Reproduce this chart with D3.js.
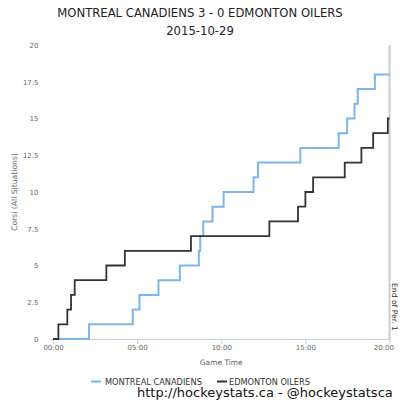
<!DOCTYPE html>
<html><head><meta charset="utf-8">
<script src="https://cdn.jsdelivr.net/npm/d3@7/dist/d3.min.js"></script>
<style>body{margin:0;background:#fff}svg{display:block}text{font-family:"DejaVu Sans",Verdana,sans-serif}</style>
</head><body><svg id="c" width="400" height="400"></svg>
<script>
const titleLine1 = "MONTREAL CANADIENS 3 - 0 EDMONTON OILERS";
const titleLine2 = "2015-10-29";
const seriesNames = ["MONTREAL CANADIENS", "EDMONTON OILERS"];
const seriesColors = ["#7cb5ec", "#333333"];
// event times in minutes, cumulative corsi values
const mtlTimes  = [0, 2.14, 4.74, 5.14, 6.27, 7.54, 8.67, 8.75, 8.93, 9.48, 10.14, 11.92, 12.18, 14.70, 16.98, 17.48, 17.92, 18.11, 19.13, 20];
const mtlValues = [0, 1, 2, 3, 4, 5, 6, 7, 8, 9, 10, 11, 12, 13, 14, 15, 16, 17, 18, 18];
const edmTimes  = [0, 0.32, 0.85, 1.07, 1.29, 3.17, 4.27, 8.20, 12.86, 14.56, 15.00, 15.46, 17.34, 18.33, 19.03, 19.90, 20];
const edmValues = [0, 1, 2, 3, 4, 5, 6, 7, 8, 9, 10, 11, 12, 13, 14, 15, 15];
const xTicks = [0, 5, 10, 15, 20];
const yTicks = [0, 2.5, 5, 7.5, 10, 12.5, 15, 17.5, 20];
const yTitle = "Corsi (All Situations)";
const xTitle = "Game Time";
const plotLineLabel = "End of Per. 1";
const plotLineAt = 20;
const credit = "http://hockeystats.ca - @hockeystatsca";

const svg = d3.select("#c");
const x = d3.scaleLinear().domain([0, 20]).range([53, 389.5]);
const y = d3.scaleLinear().domain([0, 20]).range([339, 45]);

function fit(sel, w) {
  const n = sel.node(); const cur = n.getComputedTextLength();
  const fs = parseFloat(sel.attr("font-size"));
  sel.attr("font-size", fs * w / cur);
  return fs * w / cur;
}

// title
const t1 = svg.append("text").attr("x", 200).attr("y", 17).attr("text-anchor", "middle")
  .attr("font-size", 14).attr("fill", "#222").text(titleLine1);
const tfs = fit(t1, 286);
svg.append("text").attr("x", 200).attr("y", 35).attr("text-anchor", "middle")
  .attr("font-size", tfs).attr("fill", "#222").text(titleLine2);

// plot line
svg.append("line").attr("x1", x(plotLineAt)).attr("x2", x(plotLineAt))
  .attr("y1", y(20)).attr("y2", y(0)).attr("stroke", "#cccccc").attr("stroke-width", 2);
const pl = svg.append("text").attr("transform", `translate(${x(plotLineAt) + 2.5},283) rotate(90)`)
  .attr("font-size", 9).attr("fill", "#333").text(plotLineLabel);
fit(pl, 48);

// x axis
const xAxis = d3.axisBottom(x).tickValues(xTicks).tickSize(5).tickPadding(1.5)
  .tickFormat(d => d3.format("02d")(d) + ":00");
const gx = svg.append("g").attr("transform", `translate(0,${y(0)})`).call(xAxis);
gx.select(".domain").attr("stroke", "#C0D0E0").attr("d", `M${x(0)-2},0.5H${x(20)+1}`);
gx.selectAll(".tick line").attr("stroke", "#C0D0E0");
gx.selectAll(".tick text").attr("fill", "#666").attr("font-size", 7).attr("font-family", "DejaVu Sans")
  .attr("text-anchor", d => d === 20 ? "end" : "middle")
  .attr("dx", d => d === 20 ? 4 : 0);

// y axis
const yAxis = d3.axisLeft(y).tickValues(yTicks).tickSize(0).tickPadding(14.5)
  .tickFormat(d => d3.format("")(d));
const gy = svg.append("g").attr("transform", `translate(${x(0)},0)`).call(yAxis);
gy.select(".domain").remove();
gy.selectAll(".tick text").attr("fill", "#666").attr("font-size", 7).attr("font-family", "DejaVu Sans");

// axis titles
fit(svg.append("text").attr("x", (x(0) + x(20)) / 2).attr("y", 364.5).attr("text-anchor", "middle")
  .attr("font-size", 8).attr("fill", "#666").text(xTitle), 43);
fit(svg.append("text").attr("transform", `translate(16.5,${(y(0) + y(20)) / 2}) rotate(-90)`)
  .attr("text-anchor", "middle").attr("font-size", 8).attr("fill", "#666").text(yTitle), 78);

// series
const line = d3.line().x(d => x(d[0])).y(d => y(d[1])).curve(d3.curveStepAfter);
const mtl = mtlTimes.map((t, i) => [t, mtlValues[i]]);
const edm = edmTimes.map((t, i) => [t, edmValues[i]]);
svg.append("path").attr("d", line(mtl)).attr("fill", "none").attr("stroke", seriesColors[0]).attr("stroke-width", 2);
svg.append("path").attr("d", line(edm)).attr("fill", "none").attr("stroke", seriesColors[1]).attr("stroke-width", 1.8);

// legend
const legendItems = [
  {x1: 91, tx: 105, w: 97},
  {x1: 217, tx: 229, w: 81}
];
seriesNames.forEach((name, i) => {
  const it = legendItems[i];
  svg.append("line").attr("x1", it.x1).attr("x2", it.x1 + 10).attr("y1", 381.5).attr("y2", 381.5)
    .attr("stroke", seriesColors[i]).attr("stroke-width", 2);
  fit(svg.append("text").attr("x", it.tx).attr("y", 384.5).attr("font-size", 8.5)
    .attr("fill", "#333").text(name), it.w);
});

// credit
fit(svg.append("text").attr("x", 137).attr("y", 396.5).attr("font-size", 16)
  .attr("fill", "#111").text(credit), 256);
</script></body></html>
